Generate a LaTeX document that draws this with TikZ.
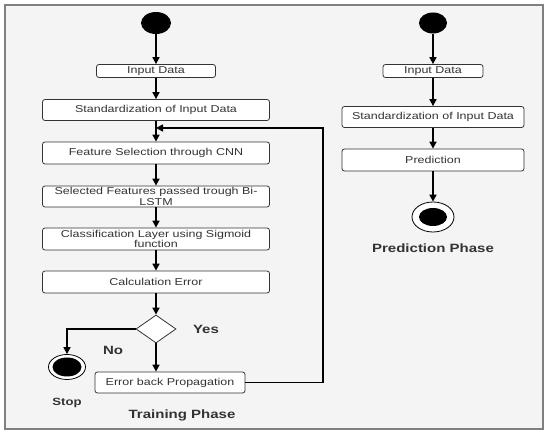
\documentclass[tikz,border=0pt]{standalone}
\usepackage{fontspec}
\setmainfont{Liberation Sans}[FakeStretch=1.25]
\usetikzlibrary{arrows.meta, shapes.geometric}
\definecolor{panel}{HTML}{F4F4F4}
\definecolor{frame}{HTML}{808080}
\definecolor{ink}{HTML}{333333}
\begin{document}
\begin{tikzpicture}[x=1pt, y=-1pt,
	box/.style={draw=ink, fill=white, rounded corners=2.5pt, inner sep=0pt, align=center,
		text=ink, font=\fontsize{10}{10.5}\selectfont, line width=0.8pt},
	dot/.style={ellipse, fill=black, inner sep=0pt},
	ring/.style={ellipse, draw=black, fill=white, inner sep=0pt, line width=0.8pt},
	lbl/.style={text=ink, font=\fontsize{12}{14}\selectfont\bfseries, inner sep=0pt},
	arr/.style={-{Triangle[length=7pt, width=7pt]}, line width=1.6pt}]
	\useasboundingbox (0, 0) rectangle (550, 435);
	\draw[fill=panel, draw=frame, line width=1.5pt] (5, 5) rectangle (543, 429);

	% training phase
	\node[dot, minimum width=30pt, minimum height=22pt] (tstart) at (156, 23) {};
	\node[box, minimum width=119pt, minimum height=13pt] (tin) at (156, 71) {Input Data};
	\node[box, minimum width=227pt, minimum height=21pt] (tstd) at (156, 110) {Standardization of Input Data};
	\node[box, minimum width=227pt, minimum height=22pt] (tfeat) at (156, 153) {Feature Selection through CNN};
	\node[box, minimum width=227pt, minimum height=21pt] (tsel) at (156, 196.5) {Selected Features passed trough Bi-\\LSTM};
	\node[box, minimum width=227pt, minimum height=22pt] (tcls) at (156, 239) {Classification Layer using Sigmoid\\function};
	\node[box, minimum width=227pt, minimum height=22pt] (tcalc) at (156, 282) {Calculation Error};
	\node[diamond, draw=ink, fill=white, inner sep=0pt, minimum width=40pt, minimum height=28pt, line width=0.8pt] (tdec) at (156, 329) {};
	\node[box, minimum width=150pt, minimum height=21pt] (tback) at (170, 382.5) {Error back Propagation};
	\node[ring, minimum width=37pt, minimum height=25pt] (tstop) at (67, 367) {};
	\fill (tstop.center) ellipse (14.5pt and 9.5pt);
	\coordinate (tjoin) at (156, 128);

	\foreach \a/\b in {tstart/tin, tin/tstd, tstd/tfeat, tfeat/tsel, tsel/tcls, tcls/tcalc, tcalc/tdec}{
		\draw[arr] (\a) -- (\b);
	}
	\draw[arr] (tdec.south) -- (tdec.south |- tback.north);
	\draw[arr] (tdec.west) -| (tstop.north);
	\draw[arr] (tback.east) -- (323, 382.5) |- (tjoin);

	\node[lbl] (yes) at (206, 329) {Yes};
	\node[lbl] (no) at (113, 350) {No};
	\node[lbl, font=\fontsize{10.5}{12}\selectfont\bfseries] (stop) at (67, 403) {Stop};
	\node[lbl] (train) at (182, 415) {Training Phase};

	% prediction phase
	\node[dot, minimum width=28pt, minimum height=21pt] (pstart) at (433, 23) {};
	\node[box, minimum width=100pt, minimum height=13pt] (pin) at (433, 71) {Input Data};
	\node[box, minimum width=182pt, minimum height=21pt] (pstd) at (433, 117) {Standardization of Input Data};
	\node[box, minimum width=182pt, minimum height=22pt] (ppred) at (433, 160) {Prediction};
	\node[ring, minimum width=42pt, minimum height=30pt] (pend) at (433, 217) {};
	\fill (pend.center) ellipse (14pt and 9pt);

	\foreach \a/\b in {pstart/pin, pin/pstd, pstd/ppred, ppred/pend}{
		\draw[arr] (\a) -- (\b);
	}

	\node[lbl] (pred) at (433, 248) {Prediction Phase};
\end{tikzpicture}
\end{document}
